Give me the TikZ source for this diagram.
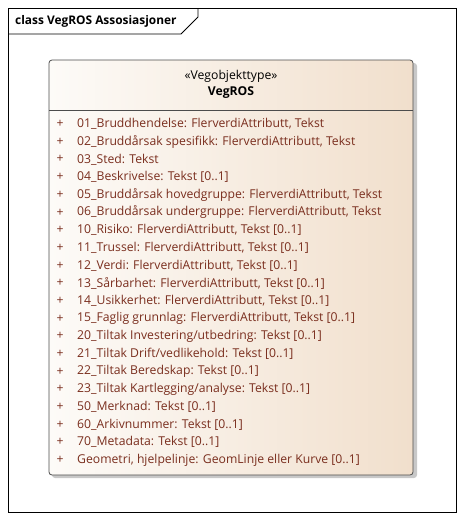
\documentclass[tikz,border=0pt]{standalone}
\usepackage{fontspec}
\setmainfont{Open Sans}
\usetikzlibrary{calc}
\definecolor{attr}{HTML}{7A2E1E}
\definecolor{boxl}{HTML}{FDFBF8}
\definecolor{boxr}{HTML}{F1DFCC}
\definecolor{shadow}{HTML}{C8C8C8}
\tikzset{
  txt/.style={inner sep=0pt, font=\fontsize{12.2}{14}\selectfont},
  attrtext/.style={txt, anchor=west, text=attr},
  plustext/.style={txt, anchor=center, text=attr},
  frameline/.style={draw=black, line width=0.8pt},
}
\begin{document}
\begin{tikzpicture}[x=1pt,y=-1pt]
\useasboundingbox (0,0) rectangle (464,520);
% outer frame
\draw[frameline] (8,8) rectangle (456,512);
\draw[frameline] (8,34) -- (181,34) -- (198,17) -- (198,8);
\node[txt, anchor=west, font=\bfseries\fontsize{11.9}{14}\selectfont] (title) at (15,21) {class VegROS Assosiasjoner};
% shadow
\fill[shadow, rounded corners=3pt] (52,63) rectangle (417,478);
% class box
\shade[left color=boxl, right color=boxr, rounded corners=3pt] (49,60) rectangle (413,475);
\draw[draw=black!70, line width=0.8pt, rounded corners=3pt] (49,60) rectangle (413,475);
\draw[draw=black!70, line width=0.8pt] (49,110) -- (413,110);
\node[txt] (stereo) at (231,76) {«Vegobjekttype»};
\node[txt, font=\bfseries\fontsize{12.2}{14}\selectfont] (name) at (231,93) {VegROS};
% attributes
\foreach \t [count=\i from 0] in {
  01\_Bruddhendelse: FlerverdiAttributt{,} Tekst,
  02\_Bruddårsak spesifikk: FlerverdiAttributt{,} Tekst,
  03\_Sted: Tekst,
  04\_Beskrivelse: Tekst [0..1],
  05\_Bruddårsak hovedgruppe: FlerverdiAttributt{,} Tekst,
  06\_Bruddårsak undergruppe: FlerverdiAttributt{,} Tekst,
  10\_Risiko: FlerverdiAttributt{,} Tekst [0..1],
  11\_Trussel: FlerverdiAttributt{,} Tekst [0..1],
  12\_Verdi: FlerverdiAttributt{,} Tekst [0..1],
  13\_Sårbarhet: FlerverdiAttributt{,} Tekst [0..1],
  14\_Usikkerhet: FlerverdiAttributt{,} Tekst [0..1],
  15\_Faglig grunnlag: FlerverdiAttributt{,} Tekst [0..1],
  20\_Tiltak Investering/utbedring: Tekst [0..1],
  21\_Tiltak Drift/vedlikehold: Tekst [0..1],
  22\_Tiltak Beredskap: Tekst [0..1],
  23\_Tiltak Kartlegging/analyse: Tekst [0..1],
  50\_Merknad: Tekst [0..1],
  60\_Arkivnummer: Tekst [0..1],
  70\_Metadata: Tekst [0..1],
  Geometri{,} hjelpelinje: GeomLinje eller Kurve [0..1]}
{
  \node[plustext] (p\i) at (60,{124+17.68*\i}) {+};
  \node[attrtext] (a\i) at (77,{124+17.68*\i}) {\t};
}
\end{tikzpicture}
\end{document}
